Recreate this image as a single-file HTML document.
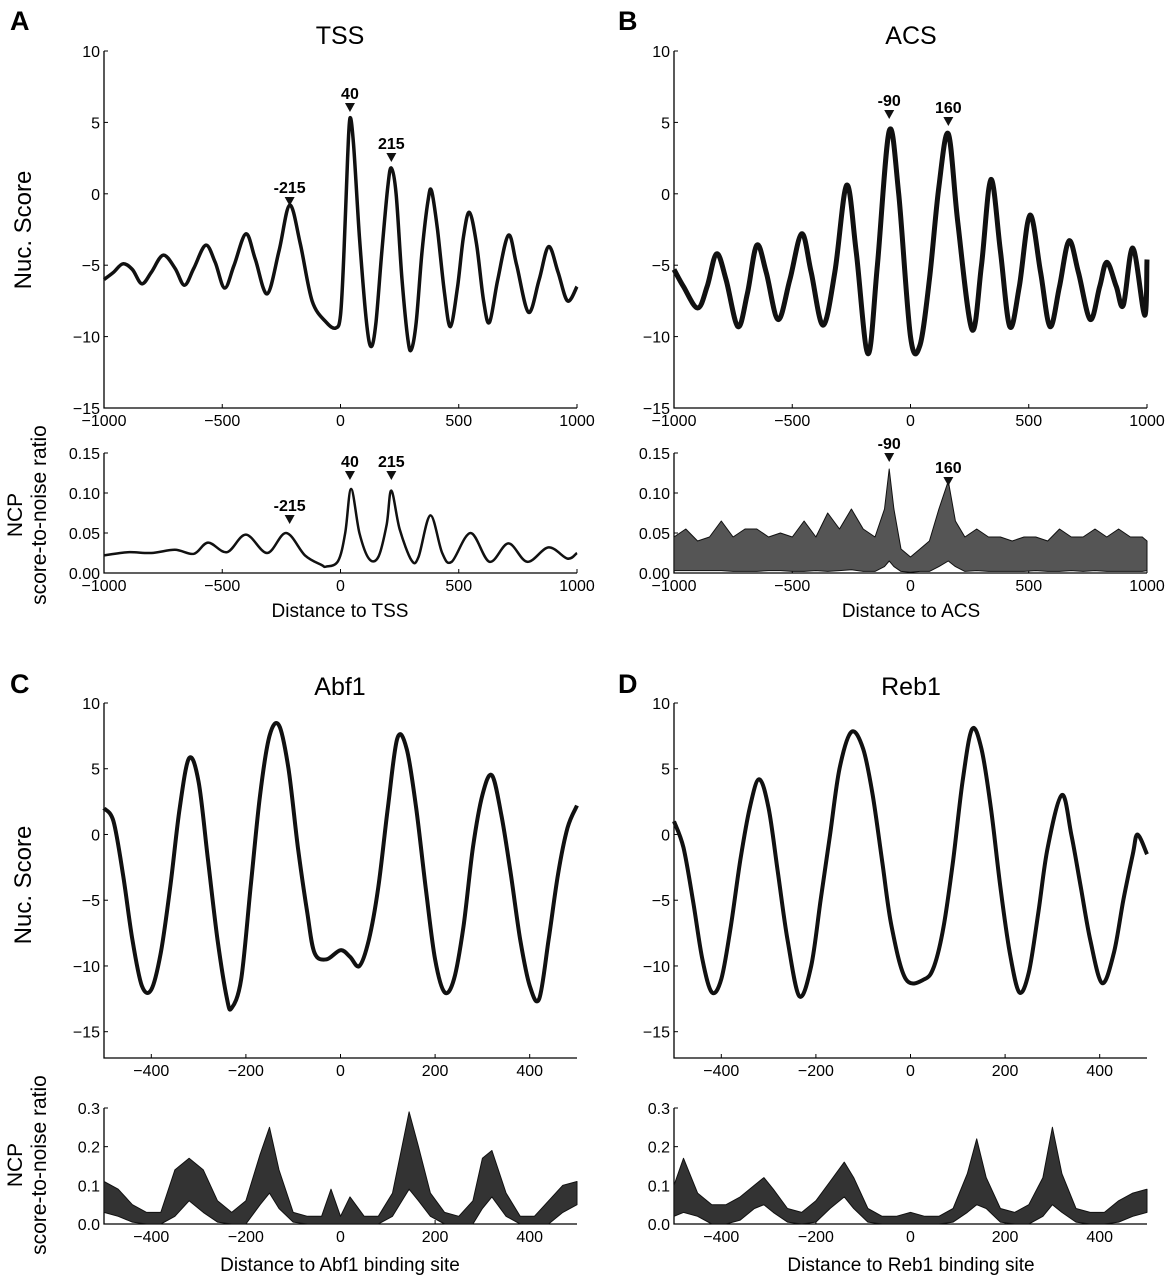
<!DOCTYPE html>
<html><head><meta charset="utf-8"><style>
body{margin:0;background:#fff;}
svg{display:block;font-family:"Liberation Sans",sans-serif;}
</style></head><body>
<svg id="fig" width="1169" height="1280" viewBox="0 0 1169 1280">
<text x="10" y="30" font-size="27" font-weight="bold">A</text>
<text x="618" y="30" font-size="27" font-weight="bold">B</text>
<text x="10" y="693" font-size="27" font-weight="bold">C</text>
<text x="618" y="693" font-size="27" font-weight="bold">D</text>
<text x="340" y="44" font-size="25" text-anchor="middle">TSS</text>
<text x="911" y="44" font-size="25" text-anchor="middle">ACS</text>
<text x="340" y="695" font-size="25" text-anchor="middle">Abf1</text>
<text x="911" y="695" font-size="25" text-anchor="middle">Reb1</text>
<text transform="translate(31,230) rotate(-90)" font-size="24" text-anchor="middle">Nuc. Score</text>
<text transform="translate(31,885) rotate(-90)" font-size="24" text-anchor="middle">Nuc. Score</text>
<text transform="translate(22,515) rotate(-90)" font-size="21" text-anchor="middle"><tspan x="0" dy="0">NCP</tspan><tspan x="0" dy="24">score-to-noise ratio</tspan></text>
<text transform="translate(22,1165) rotate(-90)" font-size="21" text-anchor="middle"><tspan x="0" dy="0">NCP</tspan><tspan x="0" dy="24">score-to-noise ratio</tspan></text>
<text x="340" y="617" font-size="19" text-anchor="middle">Distance to TSS</text>
<text x="911" y="617" font-size="19" text-anchor="middle">Distance to ACS</text>
<text x="340" y="1271" font-size="19" text-anchor="middle">Distance to Abf1 binding site</text>
<text x="911" y="1271" font-size="19" text-anchor="middle">Distance to Reb1 binding site</text>
</svg>
<script>
// ---- data ----
const tssX = [-1000,-960,-920,-880,-840,-800,-750,-700,-660,-620,-570,-530,-490,-450,-400,-360,-310,-260,-215,-170,-120,-60,-20,0,15,30,40,55,80,110,130,150,175,200,215,235,260,285,300,320,345,370,385,410,440,465,495,520,545,575,605,630,665,710,745,795,840,880,920,960,1000];
const tssY = [-6.0,-5.5,-4.9,-5.3,-6.3,-5.5,-4.3,-5.2,-6.4,-5.2,-3.6,-4.8,-6.6,-5.0,-2.8,-4.6,-7.0,-4.0,-0.8,-3.5,-7.5,-9.0,-9.4,-8.5,-4,2.5,5.3,3.5,-3,-9,-10.7,-9,-4,0.5,1.8,0,-6,-10.2,-10.9,-9,-4,-0.5,0.2,-2.5,-7,-9.3,-6.5,-3,-1.3,-3.5,-7.5,-9.0,-6,-2.9,-5,-8.3,-6,-3.7,-5.5,-7.5,-6.5];
const tssNX = [-1000,-900,-800,-700,-620,-560,-480,-400,-310,-230,-150,-80,-60,-10,20,45,80,120,160,195,215,250,300,330,380,430,470,550,630,710,790,880,960,1000];
const tssNY = [0.022,0.026,0.025,0.029,0.024,0.038,0.026,0.048,0.025,0.05,0.022,0.01,0.008,0.015,0.05,0.105,0.05,0.018,0.02,0.06,0.103,0.055,0.016,0.02,0.072,0.025,0.014,0.05,0.014,0.037,0.014,0.032,0.018,0.025];
const acsX = [-1000,-960,-900,-860,-820,-780,-730,-690,-650,-610,-560,-510,-460,-420,-370,-320,-270,-230,-180,-140,-90,-50,0,40,80,120,160,200,260,300,340,380,420,460,505,550,590,630,670,710,760,800,830,870,900,940,990,1000];
const acsY = [-5.3,-6.5,-8.0,-6.5,-4.2,-6.0,-9.3,-7.0,-3.6,-5.5,-8.8,-6.0,-2.8,-5.5,-9.2,-5.5,0.6,-4.0,-11.2,-5.0,4.4,0,-10.0,-10.6,-6.0,0.5,4.2,-2.0,-9.5,-5.0,1.0,-4.0,-9.3,-6.5,-1.5,-5.5,-9.3,-6.5,-3.3,-5.5,-8.8,-6.5,-4.8,-6.5,-7.8,-3.8,-8.5,-4.6];
const acsNX = [-1000,-950,-900,-850,-800,-750,-700,-650,-600,-550,-500,-450,-400,-350,-300,-250,-200,-150,-110,-90,-70,-40,0,40,80,120,160,190,230,280,330,380,430,480,530,580,630,680,730,780,830,880,930,980,1000];
const acsNLo = [0.003,0.003,0.003,0.003,0.003,0.002,0.002,0.002,0.003,0.003,0.002,0.002,0.003,0.002,0.003,0.004,0.002,0.002,0.008,0.015,0.008,0.002,0.001,0.002,0.002,0.008,0.015,0.008,0.002,0.003,0.002,0.002,0.002,0.002,0.003,0.002,0.002,0.003,0.002,0.003,0.002,0.002,0.002,0.002,0.003];
const acsNHi = [0.045,0.055,0.04,0.045,0.065,0.045,0.055,0.055,0.045,0.05,0.045,0.065,0.045,0.075,0.055,0.08,0.055,0.045,0.08,0.13,0.08,0.03,0.02,0.03,0.04,0.08,0.115,0.065,0.045,0.055,0.045,0.045,0.04,0.045,0.045,0.04,0.055,0.045,0.045,0.055,0.045,0.055,0.045,0.045,0.04];
const abfX = [-500,-480,-460,-440,-420,-400,-380,-360,-340,-320,-300,-280,-260,-240,-230,-210,-190,-170,-150,-130,-110,-90,-70,-55,-30,0,20,40,60,80,100,120,140,160,180,200,220,240,260,280,300,320,340,360,380,400,420,440,460,480,500];
const abfY = [2.0,1,-3,-8,-11.5,-11.8,-9,-4,2,5.8,4,-2,-8,-12.5,-13.2,-11,-4,3,7.5,8.3,5,-1,-6,-9,-9.5,-8.8,-9.3,-10,-8,-4,2,7.3,6.5,2,-4,-9.5,-12,-11,-7,-1,3,4.5,1.5,-3,-8,-11.5,-12.5,-8,-3,0.5,2.2];
const abfNX = [-500,-470,-440,-410,-380,-350,-320,-290,-260,-230,-200,-170,-150,-130,-100,-70,-40,-20,0,20,50,80,110,130,145,165,190,220,250,280,300,320,350,380,410,440,470,500];
const abfNLo = [0.03,0.02,0.005,0.0,0.0,0.02,0.06,0.03,0.005,0.0,0.0,0.05,0.08,0.04,0.005,0.0,0.0,0.0,0.0,0.0,0.0,0.0,0.02,0.06,0.09,0.06,0.02,0.0,0.0,0.0,0.04,0.07,0.02,0.0,0.0,0.0,0.03,0.05];
const abfNHi = [0.11,0.09,0.05,0.03,0.03,0.14,0.17,0.14,0.06,0.03,0.06,0.18,0.25,0.14,0.03,0.02,0.02,0.09,0.02,0.07,0.02,0.02,0.08,0.2,0.29,0.2,0.08,0.03,0.02,0.06,0.17,0.19,0.08,0.02,0.02,0.06,0.1,0.11];
const rebX = [-500,-480,-460,-440,-420,-400,-380,-360,-340,-320,-300,-280,-260,-235,-210,-190,-170,-150,-125,-100,-80,-60,-40,-10,30,50,70,90,110,130,150,170,190,210,230,250,270,290,320,340,360,380,405,430,450,470,480,500];
const rebY = [1.0,-1,-5,-9.5,-12,-11,-7,-2,2,4.2,2,-3,-8,-12.3,-10,-5,0,5,7.8,6.5,3,-2,-7,-11,-11,-10,-7,-2,4,8,6.5,2,-4,-9,-12,-10.5,-6,-1,3,0,-4,-8,-11.3,-9,-5,-1.5,0,-1.5];
const rebNX = [-500,-480,-450,-420,-390,-360,-330,-310,-290,-260,-230,-200,-170,-140,-120,-90,-60,-30,0,30,60,90,120,140,160,190,220,250,280,300,320,350,380,410,440,470,500];
const rebNLo = [0.02,0.03,0.02,0.0,0.0,0.01,0.04,0.05,0.03,0.005,0.0,0.005,0.04,0.07,0.04,0.005,0.0,0.0,0.0,0.0,0.0,0.005,0.03,0.05,0.04,0.005,0.0,0.0,0.02,0.05,0.03,0.005,0.0,0.0,0.005,0.02,0.03];
const rebNHi = [0.1,0.17,0.08,0.05,0.05,0.07,0.1,0.12,0.09,0.04,0.03,0.06,0.11,0.16,0.12,0.04,0.02,0.02,0.03,0.02,0.02,0.04,0.13,0.22,0.12,0.04,0.03,0.05,0.12,0.25,0.13,0.04,0.03,0.03,0.06,0.08,0.09];
const xTicksWide = [-1000,-500,0,500,1000];
const xTicksNarrow = [-400,-200,0,200,400];
const yTicksScore = [10,5,0,-5,-10,-15];
const yTicksNcpA = [0,0.05,0.10,0.15];
const yTicksNcpC = [0,0.1,0.2,0.3];

const NS = 'http://www.w3.org/2000/svg';
const svg = document.getElementById('fig');
function mk(tag, attrs, parent){const e=document.createElementNS(NS,tag);for(const k in attrs)e.setAttribute(k,attrs[k]);(parent||svg).appendChild(e);return e;}
function fmtNum(v,dec){return (v<0?'\u2212':'')+Math.abs(v).toFixed(dec);}
function smooth(pts){
  let d='M'+pts[0][0].toFixed(1)+','+pts[0][1].toFixed(1);
  for(let i=0;i<pts.length-1;i++){
    const p0=pts[Math.max(0,i-1)],p1=pts[i],p2=pts[i+1],p3=pts[Math.min(pts.length-1,i+2)];
    const c1=[p1[0]+(p2[0]-p0[0])/6,p1[1]+(p2[1]-p0[1])/6];
    const c2=[p2[0]-(p3[0]-p1[0])/6,p2[1]-(p3[1]-p1[1])/6];
    d+=' C'+c1[0].toFixed(1)+','+c1[1].toFixed(1)+' '+c2[0].toFixed(1)+','+c2[1].toFixed(1)+' '+p2[0].toFixed(1)+','+p2[1].toFixed(1);
  }
  return d;
}
function axes(c){
  const g=mk('g',{});
  
  
  const sx=v=>c.x0+(v-c.xmin)/(c.xmax-c.xmin)*(c.x1-c.x0);
  const sy=v=>c.y1-(v-c.ymin)/(c.ymax-c.ymin)*(c.y1-c.y0);
  const sp=mk('path',{d:`M${c.x0},${c.y0}V${c.y1}H${c.x1}`,fill:'none',stroke:'#000','stroke-width':1.3},g);
  
  
  c.xt.forEach(v=>{
    const x=sx(v);
    const t=mk('line',{x1:x,x2:x,y1:c.y1,y2:c.y1-4,stroke:'#000','stroke-width':1},g);
    
    
    const l=mk('text',{x:x,y:c.y1+18,'font-size':16,'text-anchor':'middle'},g);
    
    
    l.textContent=fmtNum(v,0);
  });
  c.yt.forEach(v=>{
    const y=sy(v);
    const t=mk('line',{x1:c.x0,x2:c.x0+4,y1:y,y2:y,stroke:'#000','stroke-width':1},g);
    
    
    const l=mk('text',{x:c.x0-4,y:y+6,'font-size':16,'text-anchor':'end'},g);
    
    
    l.textContent=fmtNum(v,c.dec);
  });
  return {g,sx,sy};
}
function line(ax,xs,ys,w,name){
  const p=mk('path',{d:smooth(xs.map((v,i)=>[ax.sx(v),ax.sy(ys[i])])),fill:'none',stroke:'#111','stroke-width':w,'stroke-linejoin':'round'},ax.g);
  
  
}
function band(ax,xs,lo,hi,name,fill){
  const top=xs.map((v,i)=>[ax.sx(v),ax.sy(hi[i])]);
  const bot=xs.map((v,i)=>[ax.sx(v),ax.sy(lo[i])]).reverse();
  let d='M'+top.map(p=>p[0].toFixed(1)+','+p[1].toFixed(1)).join(' L')+' L'+bot.map(p=>p[0].toFixed(1)+','+p[1].toFixed(1)).join(' L')+'Z';
  const p=mk('path',{d:d,fill:fill||'#333',stroke:'#111','stroke-width':1,'stroke-linejoin':'round'},ax.g);
  
  
}
function mark(ax,xv,yPix,label){
  const x=ax.sx(xv);
  const t=mk('path',{d:`M${x-5},${yPix-9}H${x+5}L${x},${yPix}Z`,fill:'#111'},ax.g);
  
  
  const l=mk('text',{x:x,y:yPix-13,'font-size':16,'font-weight':'bold','text-anchor':'middle'},ax.g);
  
  
  l.textContent=label;
}
let a1=axes({name:'tss-score-plot',x0:104,x1:577,y0:51,y1:408,xmin:-1000,xmax:1000,ymin:-15,ymax:10,xt:xTicksWide,yt:yTicksScore,dec:0});
line(a1,tssX,tssY,3.5,'tss-score-line');
mark(a1,-215,206,'-215');mark(a1,40,112,'40');mark(a1,215,162,'215');
let a2=axes({name:'tss-ncp-plot',x0:104,x1:577,y0:453,y1:573,xmin:-1000,xmax:1000,ymin:0,ymax:0.15,xt:xTicksWide,yt:yTicksNcpA,dec:2});
line(a2,tssNX,tssNY,2.5,'tss-ncp-line');
mark(a2,-215,524,'-215');mark(a2,40,480,'40');mark(a2,215,480,'215');
let b1=axes({name:'acs-score-plot',x0:674,x1:1147,y0:51,y1:408,xmin:-1000,xmax:1000,ymin:-15,ymax:10,xt:xTicksWide,yt:yTicksScore,dec:0});
line(b1,acsX,acsY,5,'acs-score-line');
mark(b1,-90,119,'-90');mark(b1,160,126,'160');
let b2=axes({name:'acs-ncp-plot',x0:674,x1:1147,y0:453,y1:573,xmin:-1000,xmax:1000,ymin:0,ymax:0.15,xt:xTicksWide,yt:yTicksNcpA,dec:2});
band(b2,acsNX,acsNLo,acsNHi,'acs-ncp-band','#555');
mark(b2,-90,462,'-90');mark(b2,160,486,'160');
let c1=axes({name:'abf1-score-plot',x0:104,x1:577,y0:703,y1:1058,xmin:-500,xmax:500,ymin:-17,ymax:10,xt:xTicksNarrow,yt:yTicksScore,dec:0});
line(c1,abfX,abfY,4,'abf1-score-line');
let c2=axes({name:'abf1-ncp-plot',x0:104,x1:577,y0:1108,y1:1224,xmin:-500,xmax:500,ymin:0,ymax:0.3,xt:xTicksNarrow,yt:yTicksNcpC,dec:1});
band(c2,abfNX,abfNLo,abfNHi,'abf1-ncp-band','#333');
let d1=axes({name:'reb1-score-plot',x0:674,x1:1147,y0:703,y1:1058,xmin:-500,xmax:500,ymin:-17,ymax:10,xt:xTicksNarrow,yt:yTicksScore,dec:0});
line(d1,rebX,rebY,4,'reb1-score-line');
let d2=axes({name:'reb1-ncp-plot',x0:674,x1:1147,y0:1108,y1:1224,xmin:-500,xmax:500,ymin:0,ymax:0.3,xt:xTicksNarrow,yt:yTicksNcpC,dec:1});
band(d2,rebNX,rebNLo,rebNHi,'reb1-ncp-band','#333');
</script>
</body></html>
